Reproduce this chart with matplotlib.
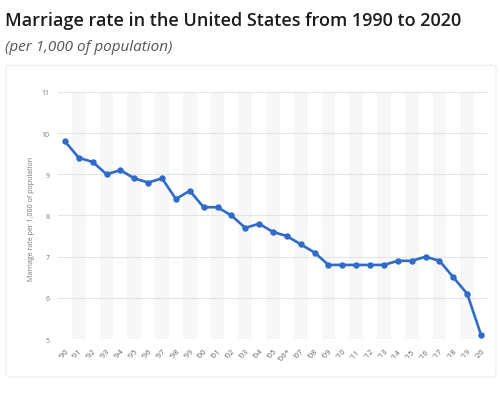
import matplotlib
matplotlib.use("Agg")
import matplotlib.pyplot as plt
from matplotlib.patches import FancyBboxPatch

years = ["'90", "'91", "'92", "'93", "'94", "'95", "'96", "'97", "'98", "'99",
         "'00", "'01", "'02", "'03", "'04", "'05", "'06*", "'07", "'08", "'09",
         "'10", "'11", "'12", "'13", "'14", "'15", "'16", "'17", "'18", "'19", "'20"]
rates = [9.8, 9.4, 9.3, 9.0, 9.1, 8.9, 8.8, 8.9, 8.4, 8.6,
         8.2, 8.2, 8.0, 7.7, 7.8, 7.6, 7.5, 7.3, 7.1, 6.8,
         6.8, 6.8, 6.8, 6.8, 6.9, 6.9, 7.0, 6.9, 6.5, 6.1, 5.1]
yticks = [5, 6, 7, 8, 9, 10, 11]

plt.rcParams['font.family'] = ['Open Sans', 'DejaVu Sans']

fig = plt.figure(figsize=(5.0, 4.02), dpi=100)
fig.patch.set_facecolor('white')

# card
card = FancyBboxPatch((0.012, 0.06), 0.98, 0.775, boxstyle="round,pad=0,rounding_size=0.008",
                      transform=fig.transFigure, facecolor='white', edgecolor='#ececec',
                      linewidth=0.8, zorder=-5)
fig.patches.append(card)

fig.text(0.01, 0.947, "Marriage rate in the United States from 1990 to 2020",
         fontsize=13.0, fontweight=600, color='#1c1c1c', va='center', ha='left')
fig.text(0.01, 0.883, "(per 1,000 of population)", fontsize=11, style='italic',
         color='#555555', va='center', ha='left')

ax = fig.add_axes([0.116, 0.154, 0.86, 0.615])
ax.set_zorder(2)
ax.set_facecolor('none')
x = list(range(len(years)))
for i in x:
    if i % 2 == 1:
        ax.axvspan(i - 0.5, i + 0.5, color='#f7f7f7', zorder=0, lw=0)
for yv in yticks:
    ax.axhline(yv, color='#e4e4e4', lw=0.8, zorder=1)

ax.plot(x, rates, color='#2f6bc9', lw=1.9, marker='o', markersize=3.6, zorder=3,
        solid_joinstyle='round')

ax.set_xlim(-0.5, len(years) - 0.5)
ax.set_ylim(5, 11)
ax.set_yticks(yticks)
ax.set_yticklabels([str(v) for v in yticks], fontsize=5, color='#777777')
ax.set_xticks(x)
ax.set_xticklabels(years, rotation=45, fontsize=5.6, color='#666666',
                   ha='right', va='top', rotation_mode='anchor')
ax.tick_params(axis='both', length=0, pad=6)
ax.tick_params(axis='x', pad=6)
for s in ax.spines.values():
    s.set_visible(False)
ax.set_ylabel("Marriage rate per 1,000 of population", fontsize=5, color='#777777')
ax.yaxis.set_label_coords(-0.053, 0.49)

fig.savefig("out.png", dpi=100, facecolor='white')
